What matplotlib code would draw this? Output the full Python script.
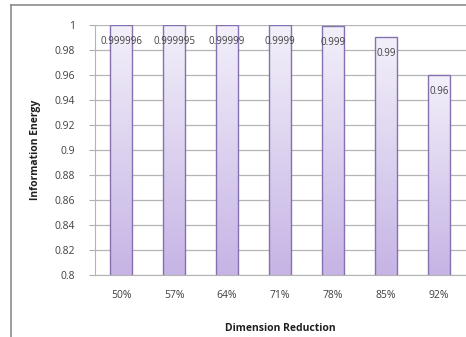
import numpy as np
import matplotlib
matplotlib.use("Agg")
import matplotlib.pyplot as plt
from matplotlib.lines import Line2D

categories = ["50%", "57%", "64%", "71%", "78%", "85%", "92%"]
values = [0.999996, 0.999995, 0.99999, 0.9999, 0.999, 0.99, 0.96]
labels = ["0.999996", "0.999995", "0.99999", "0.9999", "0.999", "0.99", "0.96"]
yticks = [0.8, 0.82, 0.84, 0.86, 0.88, 0.9, 0.92, 0.94, 0.96, 0.98, 1]

plt.rcParams["font.family"] = ["Open Sans", "DejaVu Sans"]

fig = plt.figure(figsize=(4.66, 3.37), dpi=100)
ax = fig.add_axes([0.203, 0.184, 0.796, 0.742])

x = np.arange(len(categories))
bars = ax.bar(x, values, width=0.43, bottom=0, color="none",
              edgecolor="#8571b0", linewidth=1.0, zorder=3)

# vertical gradient inside each bar
grad = np.linspace(0, 1, 256).reshape(-1, 1)
cmap = matplotlib.colors.LinearSegmentedColormap.from_list("g", ["#c6b4e5", "#f3f0fa"])
for b in bars:
    im = ax.imshow(grad, cmap=cmap, aspect="auto", origin="lower",
                   extent=[b.get_x(), b.get_x() + b.get_width(), 0.8, b.get_height()],
                   zorder=2)
    im.set_clip_path(b)

for xi, v, lab in zip(x, values, labels):
    ax.text(xi, v - 0.0085, lab, ha="center", va="top", fontsize=7, color="#404040", zorder=4)

ax.set_xlim(-0.5, len(categories) - 0.5)
ax.set_ylim(0.8, 1.0)
ax.set_yticks(yticks)
ax.set_yticklabels([f"{t:g}" for t in yticks])
ax.set_xticks(x)
ax.set_xticklabels(categories)
ax.tick_params(axis="y", length=4, color="#b0b0b0", labelsize=7.5, labelcolor="#404040", pad=10)
ax.tick_params(axis="x", length=0, labelsize=7.5, labelcolor="#404040", pad=11)
ax.yaxis.grid(True, color="#b4b4b4", linewidth=0.9, zorder=0)
ax.set_axisbelow(True)
for s in ["top", "right"]:
    ax.spines[s].set_visible(False)
ax.spines["left"].set_color("#b4b4b4")
ax.spines["bottom"].set_color("#b4b4b4")

ax.set_ylabel("Information Energy", fontsize=7.5, fontweight="bold", color="#202020", labelpad=10)
ax.set_xlabel("Dimension Reduction", fontsize=7.5, fontweight="bold", color="#202020", labelpad=16)

# outer chart frame (partially cropped)
fig.add_artist(Line2D([11 / 466, 1], [1 - 5 / 337, 1 - 5 / 337], color="#8c8c8c", lw=1.2))
fig.add_artist(Line2D([11 / 466, 11 / 466], [0, 1 - 5 / 337], color="#8c8c8c", lw=1.2))

fig.savefig("out.png", dpi=100)
